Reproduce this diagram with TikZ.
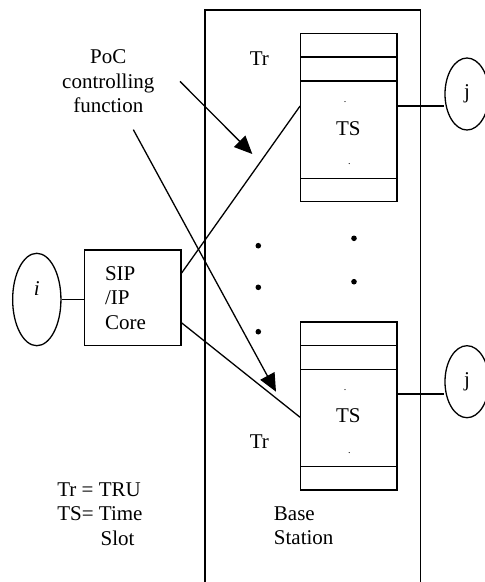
\documentclass[tikz,border=0pt]{standalone}
\usepackage{fontspec}
\setmainfont{Liberation Serif}
\usetikzlibrary{shapes.geometric,arrows.meta}

\tikzset{
  txt/.style={font=\fontsize{21}{24.5}\selectfont, inner sep=0pt},
  endpt/.style={draw, ellipse, inner sep=0pt, minimum width=44pt, minimum height=72pt, font=\fontsize{21}{24.5}\selectfont},
  tsbox/.style={draw, rectangle, minimum width=96.3pt, minimum height=168pt, inner sep=0pt},
  tick/.style={font=\fontsize{10}{12}\selectfont, inner sep=0pt},
  pointer/.style={-{Triangle[length=18pt,width=16pt]}},
}

\begin{document}
\begin{tikzpicture}[x=1pt,y=-1pt,line width=1.3pt]
\useasboundingbox (0,0) rectangle (485,582);
\clip (0,0) rectangle (485,582);

\draw (205,590) -- (205,10) -- (420.7,10) -- (420.7,590);

\node[tsbox] (ts1) at (348.9,117.7) {};
\node[tsbox] (ts2) at (348.9,405.9) {};
\foreach \b in {ts1,ts2}{
  \draw ([yshift=-24pt]\b.north west) -- ([yshift=-24pt]\b.north east);
  \draw ([yshift=-48pt]\b.north west) -- ([yshift=-48pt]\b.north east);
  \draw ([yshift=24pt]\b.south west) -- ([yshift=24pt]\b.south east);
}
\node[txt] (tslab1) at (348.3,128.3) {TS};
\node[txt] (tslab2) at (348.3,416) {TS};
\node[tick] (ts1a) at (345,101.7) {.};
\node[tick] (ts1b) at (349.3,164) {.};
\node[tick] (ts2a) at (345,390) {.};
\node[tick] (ts2b) at (349.3,453.3) {.};

\node[txt] (tr1) at (259.3,58.3) {Tr};
\node[txt] (tr2) at (259.3,441.7) {Tr};

\foreach \y in {245.7,287.3,331.7} \fill (258.3,\y) circle (2.8);
\foreach \y in {238.3,281.7} \fill (354,\y) circle (2.8);

\node[endpt] (j1) at (467,94) {j};
\node[endpt] (j2) at (467,381.7) {j};
\draw ([yshift=11.7pt]ts1.east) -- ([yshift=-12pt]j1.west);
\draw ([yshift=11.9pt]ts2.east) -- ([yshift=-12.3pt]j2.west);

\node[draw, txt, minimum width=96.7pt, minimum height=95.7pt, inner xsep=20.7pt, text width=55.3pt, align=left] (sip) at (132.7,297.9) {SIP\\/IP\\Core};
\node[endpt, minimum width=48.3pt, minimum height=92.4pt, label={[txt, yshift=11pt]center:\textit{i}}] (i) at (36.8,299.5) {};
\draw (i.east) -- (i.east -| sip.west);
\draw ([yshift=25pt]sip.east) -- ([yshift=11.7pt]ts1.west);
\draw ([yshift=-25pt]sip.east) -- ([yshift=-11.4pt]ts2.west);

\node[txt, align=center] (poc) at (108.3,81.4) {PoC\\controlling\\function};
\coordinate (tip1) at (252.3,154);
\coordinate (tip2) at (276,391.7);
\draw[pointer] ([xshift=25pt]poc.east) -- (tip1);
\draw[pointer] ([xshift=25pt,yshift=-16pt]poc.south) -- (tip2);

\node[txt, align=left, anchor=west] (legend) at (56.7,513.8) {Tr = TRU\\TS= Time\\\hspace{43.3pt}Slot};
\node[txt, align=left, anchor=west] (bslab) at (273.3,525.8) {Base\\Station};
\end{tikzpicture}
\end{document}
